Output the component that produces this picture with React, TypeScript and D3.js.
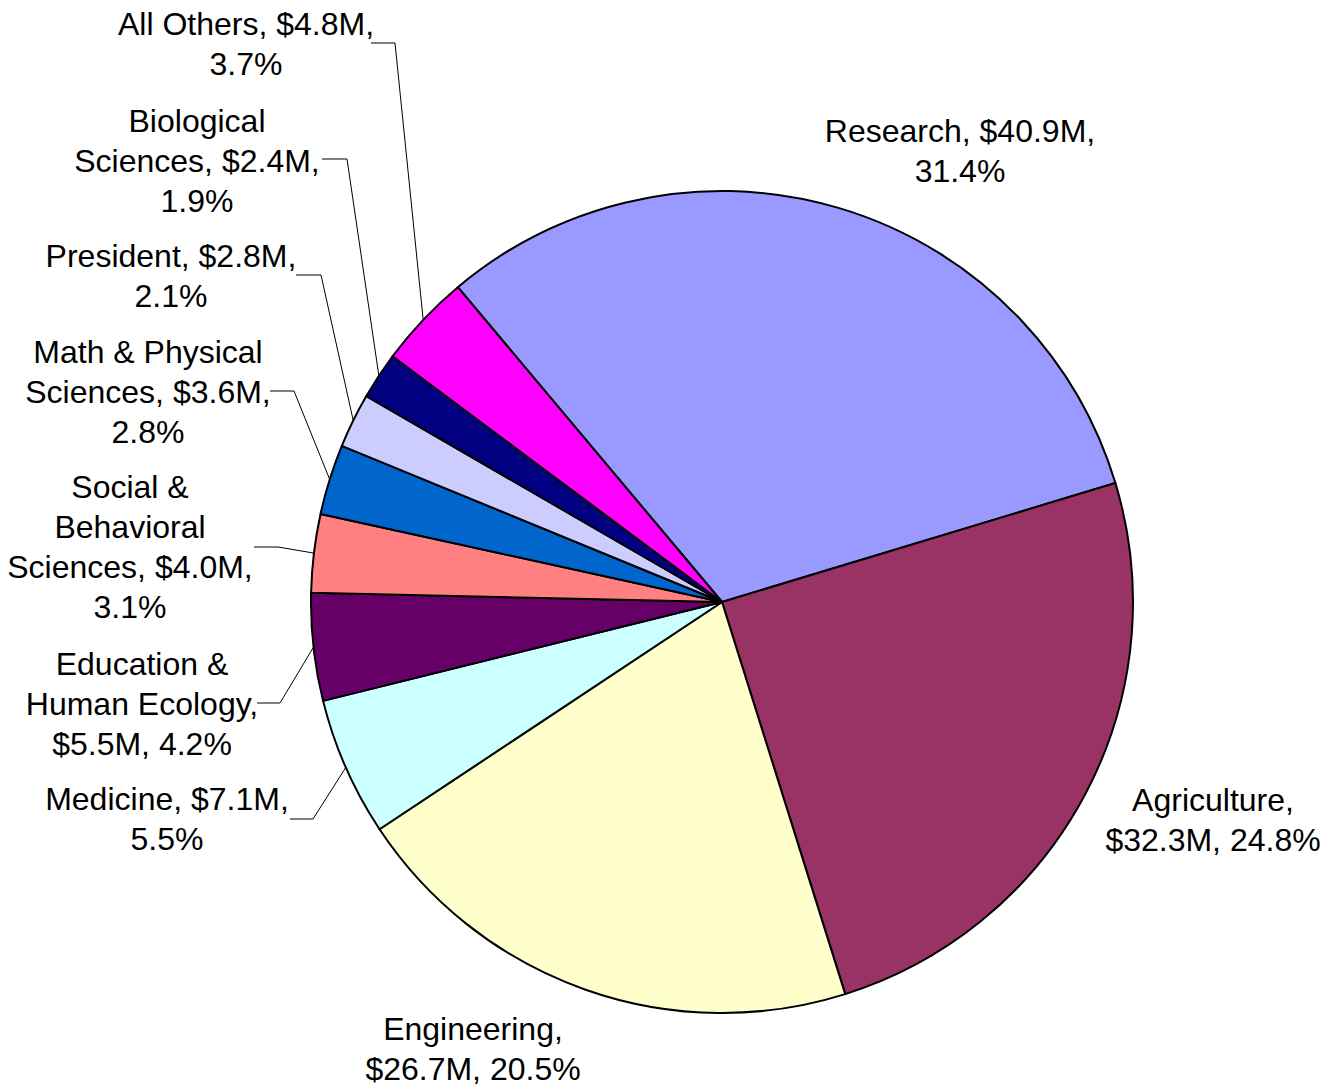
import React from 'react';
import * as d3 from 'd3';

const categories = [
  'Research',
  'Agriculture',
  'Engineering',
  'Medicine',
  'Education & Human Ecology',
  'Social & Behavioral Sciences',
  'Math & Physical Sciences',
  'President',
  'Biological Sciences',
  'All Others',
];
const amounts = [40.9, 32.3, 26.7, 7.1, 5.5, 4.0, 3.6, 2.8, 2.4, 4.8];
const percents = [31.4, 24.8, 20.5, 5.5, 4.2, 3.1, 2.8, 2.1, 1.9, 3.7];
const colors = [
  '#9999FF',
  '#993366',
  '#FFFFCC',
  '#CCFFFF',
  '#660066',
  '#FF8080',
  '#0066CC',
  '#CCCCFF',
  '#000080',
  '#FF00FF',
];

// how many words go on each line of a label
const lineWords = [
  [2, 1],
  [1, 2],
  [1, 2],
  [2, 1],
  [2, 2, 2],
  [2, 1, 2, 1],
  [3, 2, 1],
  [2, 1],
  [1, 2, 1],
  [3, 1],
];

// label placement: centre x, first baseline y
const labelPos = [
  [960, 142],
  [1213, 811],
  [473, 1040],
  [167, 810],
  [142, 675],
  [130, 498],
  [148, 363],
  [171, 267],
  [197, 132],
  [246, 35],
];

// leader lines: start x, y, elbow x (null = no leader)
const leaders: (number[] | null)[] = [
  null,
  null,
  null,
  [290, 819, 313],
  [257, 703, 280],
  [254, 547, 278],
  [270, 391, 294],
  [296, 275, 321],
  [322, 159, 347],
  [371, 43, 395],
];

const width = 1334;
const height = 1091;
const cx = 722;
const cy = 602;
const radius = 411;

const splitLines = (text: string, counts: number[]) => {
  const words = text.split(' ');
  const out: string[] = [];
  let k = 0;
  counts.forEach((n) => {
    out.push(words.slice(k, k + n).join(' '));
    k += n;
  });
  return out;
};

const App = () => {
  const data = categories.map((c, i) => ({ c, v: amounts[i], p: percents[i], i }));
  const pie = d3
    .pie<any>()
    .sort(null)
    .value((d) => d.v)
    .startAngle((-40 * Math.PI) / 180)
    .endAngle((320 * Math.PI) / 180);
  const arcs = pie(data);
  const arc = d3.arc<any>().innerRadius(0).outerRadius(radius);

  return (
    <svg
      width={width}
      height={height}
      style={{ position: 'absolute', left: 0, top: 0, background: '#fff' }}
    >
      <g transform={`translate(${cx},${cy})`}>
        {arcs.map((a) => (
          <path
            key={a.data.c}
            d={arc(a) || ''}
            fill={colors[a.data.i]}
            stroke="#000"
            strokeWidth={2}
            strokeLinejoin="round"
          />
        ))}
      </g>
      {arcs.map((a) => {
        const l = leaders[a.data.i];
        if (!l) return null;
        const mid = (a.startAngle + a.endAngle) / 2;
        const ex = cx + radius * Math.sin(mid);
        const ey = cy - radius * Math.cos(mid);
        return (
          <polyline
            key={'l' + a.data.c}
            points={`${l[0]},${l[1]} ${l[2]},${l[1]} ${ex},${ey}`}
            fill="none"
            stroke="#000"
            strokeWidth={1}
          />
        );
      })}
      {arcs.map((a) => {
        const i = a.data.i;
        const text = `${a.data.c}, $${a.data.v.toFixed(1)}M, ${a.data.p.toFixed(1)}%`;
        const lines = splitLines(text, lineWords[i]);
        const [x, y] = labelPos[i];
        return (
          <text
            key={'t' + a.data.c}
            x={x}
            y={y}
            textAnchor="middle"
            fontFamily="'Liberation Sans', Arial, sans-serif"
            fontSize={32}
            fill="#000"
          >
            {lines.map((s, j) => (
              <tspan key={j} x={x} dy={j === 0 ? 0 : 40}>
                {s}
              </tspan>
            ))}
          </text>
        );
      })}
    </svg>
  );
};

export default App;
